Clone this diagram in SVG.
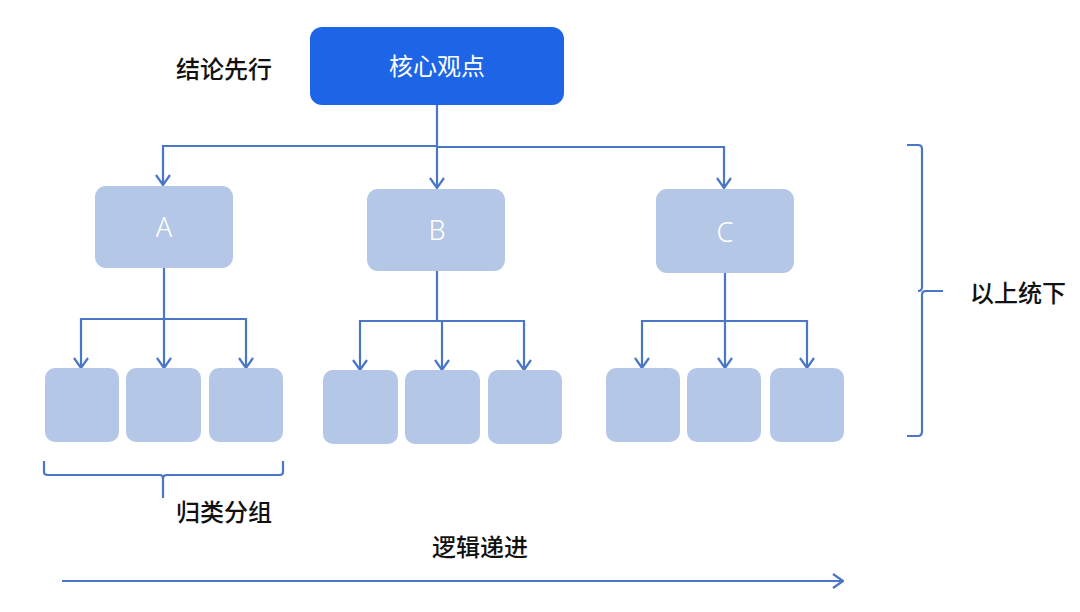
<svg xmlns="http://www.w3.org/2000/svg" width="1080" height="612" viewBox="0 0 1080 612">
<style>
.ln{fill:none;stroke:#4a76c8;stroke-width:2.2}
.box{fill:#b4c7e7}
.lbl{font-family:"Noto Sans CJK SC","Noto Sans",sans-serif;font-size:24px;font-weight:500;fill:#111}
.let{font-family:"Noto Sans","Liberation Sans",sans-serif;font-size:27px;font-weight:300;fill:#fff;text-anchor:middle}
</style>
<defs>
<marker id="arr" viewBox="0 0 12 16" refX="11" refY="8" markerWidth="12" markerHeight="16" markerUnits="userSpaceOnUse" orient="auto">
<path d="M1,1 L11,8 L1,15" fill="none" stroke="#4a76c8" stroke-width="2.2"/>
</marker>
</defs>
<rect width="1080" height="612" fill="#fff"/>
<g id="connectors">
<path class="ln" d="M437,105 V188" marker-end="url(#arr)"/>
<path class="ln" d="M437,146 H163 V185" marker-end="url(#arr)"/>
<path class="ln" d="M437,147 H724 V188" marker-end="url(#arr)"/>
<path class="ln" d="M164,268 V368" marker-end="url(#arr)"/>
<path class="ln" d="M164,319 H81 V368" marker-end="url(#arr)"/>
<path class="ln" d="M164,319 H246 V368" marker-end="url(#arr)"/>
<path class="ln" d="M437,271 V321 H360 V370" marker-end="url(#arr)"/>
<path class="ln" d="M437,321 H442 V370" marker-end="url(#arr)"/>
<path class="ln" d="M442,321 H524 V370" marker-end="url(#arr)"/>
<path class="ln" d="M725,273 V368" marker-end="url(#arr)"/>
<path class="ln" d="M725,321 H642 V368" marker-end="url(#arr)"/>
<path class="ln" d="M725,321 H807 V368" marker-end="url(#arr)"/>
<path class="ln" d="M62,581 H843" marker-end="url(#arr)"/>
</g>
<g id="brackets">
<path class="ln" d="M44,461 V472 Q44,475 48,475 H160 Q163,475 163,479 V498 M163,479 Q163,475 167,475 H280 Q283,475 283,472 V461"/>
<path class="ln" d="M907,145 H918 Q922,145 922,149 V287 Q922,291 918,291 M922,295 Q922,291 926,291 H943 M922,295 V431 Q922,436 918,436 H907"/>
</g>
<g id="top">
<rect x="310" y="27" width="254" height="78" rx="12" fill="#1e64e6"/>
<text x="437" y="75" font-family="Noto Sans CJK SC,sans-serif" font-size="24" fill="#fff" text-anchor="middle">核心观点</text>
</g>
<g id="nodeA"><rect class="box" x="95" y="186" width="138" height="82" rx="11"/><text class="let" x="164" y="237">A</text></g>
<g id="nodeB"><rect class="box" x="367" y="189" width="138" height="82" rx="11"/><text class="let" x="437" y="240">B</text></g>
<g id="nodeC"><rect class="box" x="656" y="189" width="138" height="84" rx="11"/><text class="let" x="725" y="242">C</text></g>
<g id="a1"><rect class="box" x="45" y="368" width="74" height="74" rx="10"/></g>
<g id="a2"><rect class="box" x="126" y="368" width="75" height="74" rx="10"/></g>
<g id="a3"><rect class="box" x="209" y="368" width="74" height="74" rx="10"/></g>
<g id="b1"><rect class="box" x="323" y="370" width="75" height="74" rx="10"/></g>
<g id="b2"><rect class="box" x="405" y="370" width="75" height="74" rx="10"/></g>
<g id="b3"><rect class="box" x="488" y="370" width="74" height="74" rx="10"/></g>
<g id="c1"><rect class="box" x="606" y="368" width="74" height="74" rx="10"/></g>
<g id="c2"><rect class="box" x="687" y="368" width="74" height="74" rx="10"/></g>
<g id="c3"><rect class="box" x="770" y="368" width="74" height="74" rx="10"/></g>
<g id="labels">
<text class="lbl" x="176" y="78">结论先行</text>
<text class="lbl" x="176" y="521">归类分组</text>
<text class="lbl" x="970" y="302">以上统下</text>
<text class="lbl" x="432" y="556">逻辑递进</text>
</g>
</svg>
